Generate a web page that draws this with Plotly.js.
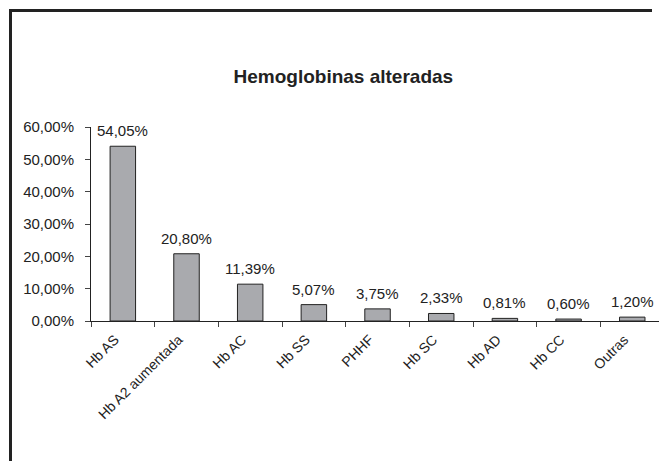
<!DOCTYPE html>
<html>
<head>
<meta charset="utf-8">
<script src="https://cdn.plot.ly/plotly-3.0.1.min.js"></script>
<style>
html,body{margin:0;padding:0;background:#fff;overflow:hidden;}
#wrap{position:relative;width:659px;height:461px;overflow:hidden;}
#chart{position:absolute;left:0;top:0;width:659px;height:461px;}
#frame{position:absolute;left:9px;top:9px;width:640px;height:500px;border-left:3px solid #222;border-top:3px solid #222;pointer-events:none;}
</style>
</head>
<body>
<div id="wrap">
<div id="chart"></div>
<div id="frame"></div>
</div>
<script>
var categories = ["Hb AS", "Hb A2 aumentada", "Hb AC", "Hb SS", "PHHF", "Hb SC", "Hb AD", "Hb CC", "Outras"];
var values = [54.05, 20.80, 11.39, 5.07, 3.75, 2.33, 0.81, 0.60, 1.20];
var yTicks = [0, 10, 20, 30, 40, 50, 60];
var chartTitle = "Hemoglobinas alteradas";

var font = "Liberation Sans, Arial, sans-serif";
var textColor = "#222";

function pct(v) { return v.toFixed(2).replace(".", ",") + "%"; }

var trace = {
  type: "bar",
  x: categories,
  y: values,
  width: 0.4,
  marker: {color: "#a9aaae", line: {color: "#222", width: 1}},
  hoverinfo: "skip"
};

var annotations = categories.map(function (c, i) {
  return {
    x: c, y: values[i], xref: "x", yref: "y",
    text: pct(values[i]),
    showarrow: false, yanchor: "bottom", yshift: 5,
    font: {family: font, size: 15, color: textColor}
  };
});

var layout = {
  width: 659, height: 461,
  margin: {l: 91, r: 0, t: 127, b: 140, pad: 0},
  paper_bgcolor: "rgba(0,0,0,0)", plot_bgcolor: "rgba(0,0,0,0)",
  showlegend: false,
  title: {
    text: "<b>" + chartTitle + "</b>",
    xref: "container", yref: "container",
    x: 0.521, xanchor: "center", y: 0.835, yanchor: "middle",
    font: {family: font, size: 19, color: textColor}
  },
  xaxis: {
    type: "category",
    range: [-0.5, 8.42],
    showline: true, linecolor: "#222", linewidth: 1,
    ticks: "outside", tickson: "boundaries", ticklen: 5, tickcolor: "#444", tickwidth: 1,
    tickangle: -45,
    ticklabelshift: -8, ticklabelstandoff: 4,
    tickfont: {family: font, size: 14, color: textColor},
    showgrid: false, zeroline: false, fixedrange: true
  },
  yaxis: {
    range: [0, 60],
    tickmode: "array",
    tickvals: yTicks,
    ticktext: yTicks.map(pct),
    showline: true, linecolor: "#222", linewidth: 1,
    ticks: "outside", ticklen: 5, tickcolor: "#444", tickwidth: 1,
    ticklabelstandoff: 8,
    tickfont: {family: font, size: 15, color: textColor},
    showgrid: false, zeroline: false, fixedrange: true
  },
  annotations: annotations
};

Plotly.newPlot("chart", [trace], layout, {displayModeBar: false, staticPlot: true});
</script>
</body>
</html>
